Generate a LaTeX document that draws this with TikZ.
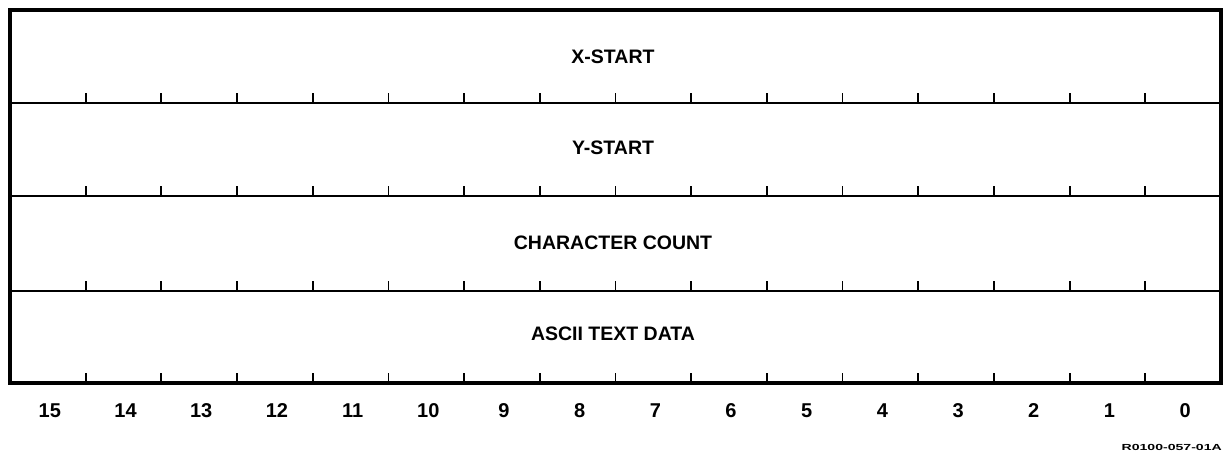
\documentclass[tikz,border=0pt]{standalone}
\usepackage{fontspec}
\setmainfont{Liberation Sans}
\begin{document}
\begin{tikzpicture}[x=1pt,y=-1pt,
  frame/.style={line width=4pt},
  divider/.style={line width=2.5pt},
  tickmark/.style={line width=1.8pt},
  field/.style={font=\fontsize{19.5}{22}\selectfont\bfseries, inner sep=0pt},
  bitnum/.style={font=\fontsize{20}{22}\selectfont\bfseries, inner sep=0pt},
  figid/.style={font=\fontsize{8.8}{10}\selectfont\bfseries\addfontfeature{FakeStretch=1.6}, inner sep=0pt}]
\useasboundingbox (0,0) rectangle (1226,456);
\def\Lx{10}\def\Rx{1221}\def\Ty{10}\def\By{383}
\pgfmathsetmacro{\colw}{(\Rx-\Lx)/16}
% row dividers
\foreach \yy in {103,196,291}
  \draw[divider] (\Lx,\yy) -- (\Rx,\yy);
% bit boundary ticks on each row's lower edge
\foreach \yy in {103,196,291,383}
  \foreach \k in {1,...,15}
    \draw[tickmark] ({\Lx+\k*\colw},\yy) -- ++(0,-10);
% outer frame
\draw[frame] (\Lx,\Ty) rectangle (\Rx,\By);
% field names
\node[field] (xs) at (613,57) {X-START};
\node[field] (ys) at (613,148) {Y-START};
\node[field] (cc) at (613,243) {CHARACTER COUNT};
\node[field] (at) at (613,334) {ASCII TEXT DATA};
% bit numbers
\foreach \k in {0,...,15}{
  \pgfmathtruncatemacro{\bit}{15-\k}
  \node[bitnum] (b\bit) at ({\Lx+2+(\k+0.5)*\colw},411) {\bit};
}
\node[figid, anchor=east] (fig) at (1222,447) {R0100-057-01A};
\end{tikzpicture}
\end{document}
